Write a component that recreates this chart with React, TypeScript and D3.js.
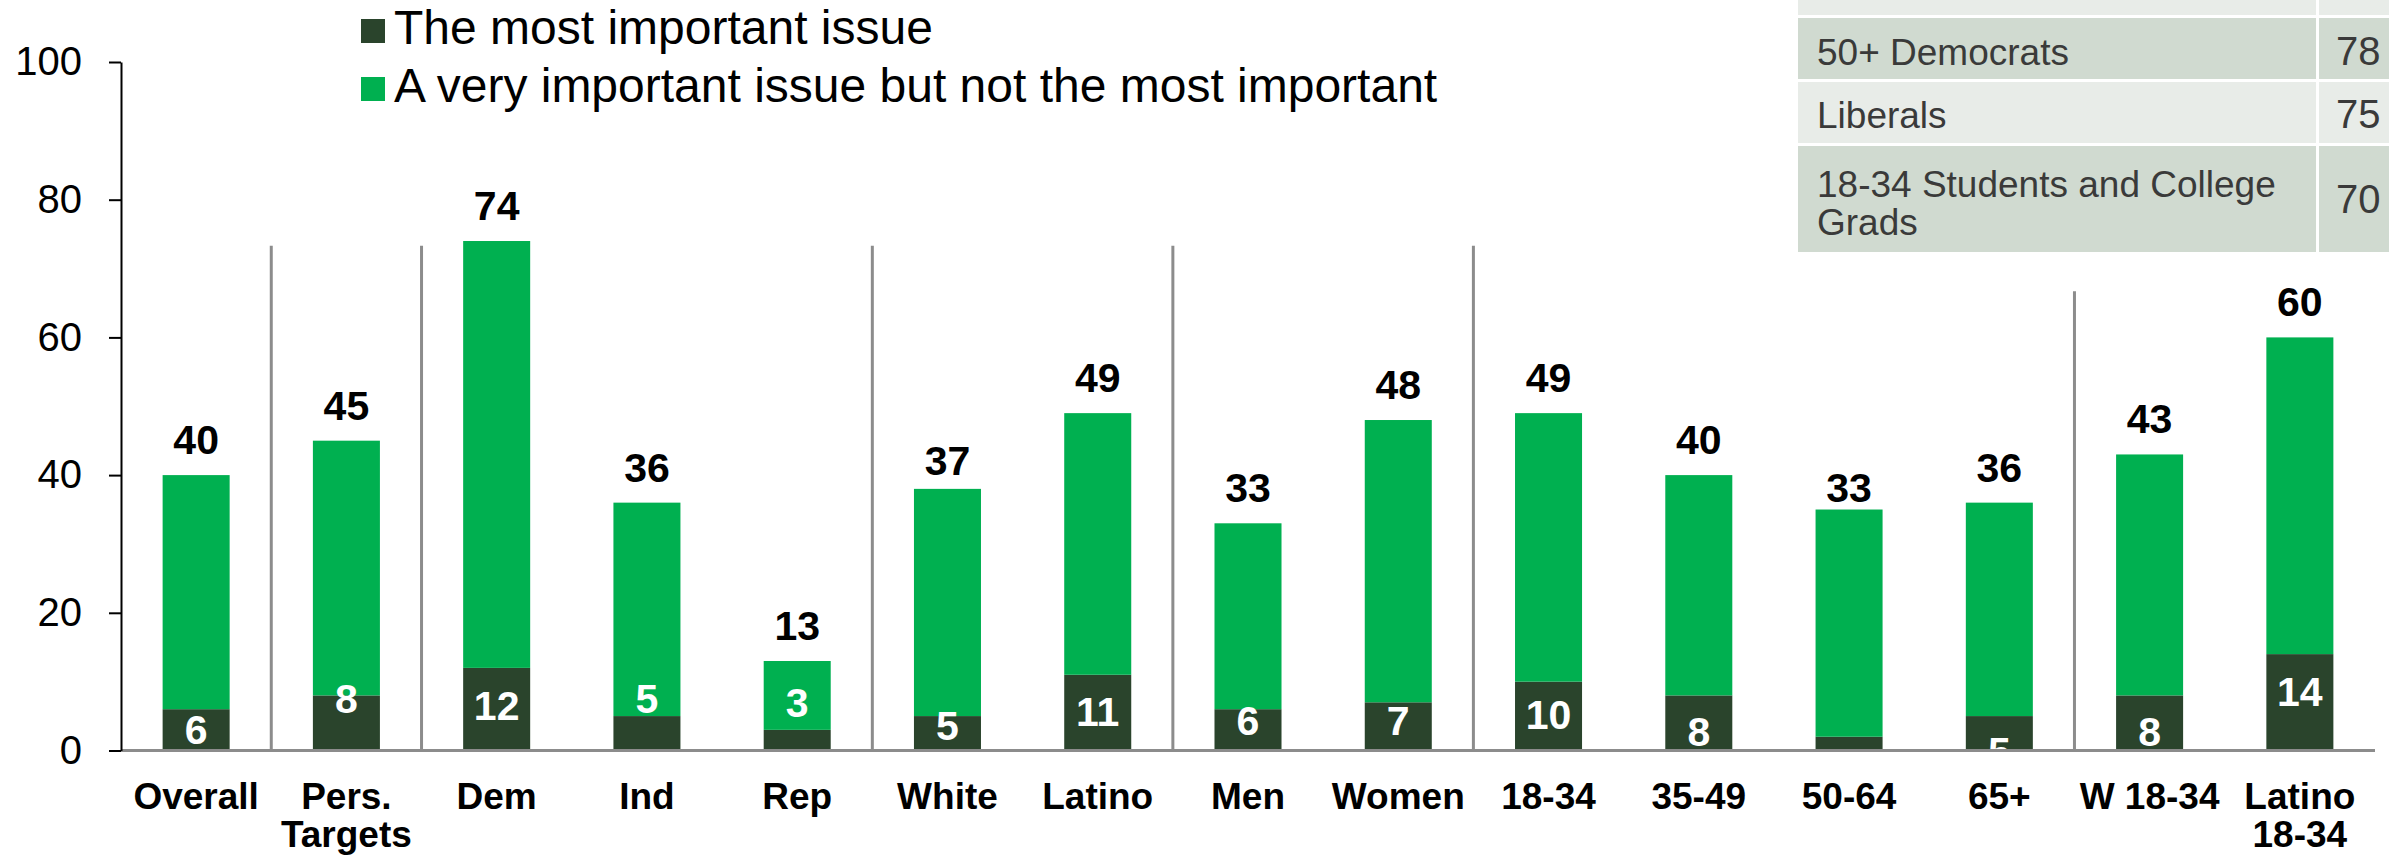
import React, { useEffect, useRef } from "react";
import * as d3 from "d3";

const categories = ["Overall", "Pers.\nTargets", "Dem", "Ind", "Rep", "White", "Latino", "Men", "Women", "18-34", "35-49", "50-64", "65+", "W 18-34", "Latino\n18-34"];
const mostImportant = [6, 8, 12, 5, 3, 5, 11, 6, 7, 10, 8, 2, 5, 8, 14];
const veryImportant = [34, 37, 62, 31, 10, 33, 38, 27, 41, 39, 32, 33, 31, 35, 46];
const totalLabels = [40, 45, 74, 36, 13, 37, 49, 33, 48, 49, 40, 33, 36, 43, 60];
const innerLabels = ["6", "8", "12", "5", "3", "5", "11", "6", "7", "10", "8", "", "5", "8", "14"];
const innerLabelLevel = [3.1, 7.6, 6.6, 7.6, 7.0, 3.7, 5.7, 4.3, 4.4, 5.2, 2.7, 0, -0.2, 2.7, 8.5];
const yTicks = [0, 20, 40, 60, 80, 100];
const seriesNames = ["The most important issue", "A very important issue but not the most important"];
const separatorBefore = [1, 2, 5, 7, 9, 13];
const separatorTop = [73.3, 73.3, 73.3, 73.3, 73.3, 66.7];
const tableLabels = ["", "50+ Democrats", "Liberals", "18-34 Students and College\nGrads"];
const tableValues = ["", "78", "75", "70"];

const FONT = "'Liberation Sans', Arial, Helvetica, sans-serif";
const DARK = "#2a442c";
const GREEN = "#00b050";

export default function App() {
  const W = 2389;
  const H = 858;
  const axisRef = useRef<SVGGElement>(null);

  const x = d3.scaleBand<string>().domain(categories).range([121, 2375]).paddingInner(0.554).paddingOuter(0.277);
  const y = d3.scaleLinear().domain([0, 100]).range([750.5, 62]);
  const rows = categories.map((c, i) => ({ cat: c, most: mostImportant[i], very: veryImportant[i] }));
  const stacked = d3.stack<any>().keys(["most", "very"])(rows);
  const colors = [DARK, GREEN];
  const gap = x.step() - x.bandwidth();

  useEffect(() => {
    if (!axisRef.current) return;
    const g = d3.select(axisRef.current);
    g.call(d3.axisLeft(y).tickValues(yTicks).tickSize(12).tickSizeOuter(0).tickPadding(27) as any);
    g.select(".domain").attr("stroke", "#000").attr("stroke-width", 2);
    g.selectAll(".tick line").attr("stroke", "#000").attr("stroke-width", 2);
    g.selectAll(".tick text").attr("font-size", 40).attr("fill", "#000").attr("font-family", FONT);
  }, []);

  const tableRowsLayout = [
    { y: -45, h: 60, fill: "#e8ece8" },
    { y: 18, h: 61, fill: "#d0dad0" },
    { y: 82, h: 61, fill: "#e8ece8" },
    { y: 146, h: 106, fill: "#d0dad0" },
  ];
  const tableTextBase = [[0], [65], [128], [197, 235]];
  const tableValueBase = [0, 65, 128, 213];

  return (
    <svg width={W} height={H} style={{ position: "absolute", left: 0, top: 0, background: "#fff" }} fontFamily={FONT}>
      <defs>
        <clipPath id="plotClip">
          <rect x={0} y={0} width={W} height={750.5} />
        </clipPath>
      </defs>

      {/* table in the top right */}
      <g>
        {tableRowsLayout.map((r, i) => (
          <g key={i}>
            <rect x={1798} y={r.y} width={518} height={r.h} fill={r.fill} />
            <rect x={2319} y={r.y} width={100} height={r.h} fill={r.fill} />
            {tableLabels[i].split("\n").map((t, j) => (
              <text key={j} x={1817} y={tableTextBase[i][j]} fontSize={37} fill="#3a3a3a">{t}</text>
            ))}
            {tableValues[i] && (
              <text x={2336} y={tableValueBase[i]} fontSize={40} fill="#3a3a3a">{tableValues[i]}</text>
            )}
          </g>
        ))}
      </g>

      {/* legend */}
      {seriesNames.map((s, i) => (
        <g key={s}>
          <rect x={361} y={19 + i * 58} width={24} height={24} fill={colors[i]} />
          <text x={394} y={44 + i * 58} fontSize={48} fill="#000">{s}</text>
        </g>
      ))}

      {/* bars */}
      {stacked.map((layer, li) => (
        <g key={li} fill={colors[li]}>
          {layer.map((d: any, i: number) => (
            <rect key={i} x={x(categories[i])} y={y(d[1])} width={x.bandwidth()} height={y(d[0]) - y(d[1])} />
          ))}
        </g>
      ))}

      {/* separators */}
      {separatorBefore.map((idx, k) => {
        const sx = (x(categories[idx]) as number) - gap / 2;
        return <line key={k} x1={sx} x2={sx} y1={y(separatorTop[k])} y2={y(0)} stroke="#8c8c8c" strokeWidth={3} />;
      })}

      {/* inner labels */}
      <g clipPath="url(#plotClip)">
        {innerLabels.map((t, i) => (
          <text key={i} x={(x(categories[i]) as number) + x.bandwidth() / 2} y={y(innerLabelLevel[i]) + 14.5} textAnchor="middle" fontSize={41} fontWeight="bold" fill="#fff">{t}</text>
        ))}
      </g>

      {/* x axis line */}
      <line x1={121} x2={2375} y1={y(0)} y2={y(0)} stroke="#8c8c8c" strokeWidth={3} />

      {/* y axis */}
      <g ref={axisRef} transform="translate(121,0)" />

      {/* total labels */}
      {totalLabels.map((v, i) => (
        <text key={i} x={(x(categories[i]) as number) + x.bandwidth() / 2} y={y(v) - 21} textAnchor="middle" fontSize={41} fontWeight="bold" fill="#000">{v}</text>
      ))}

      {/* category labels */}
      {categories.map((c, i) => (
        <text key={i} x={(x(c) as number) + x.bandwidth() / 2} y={809} textAnchor="middle" fontSize={37} fontWeight="bold" fill="#000">
          {c.split("\n").map((t, j) => (
            <tspan key={j} x={(x(c) as number) + x.bandwidth() / 2} dy={j === 0 ? 0 : 38}>{t}</tspan>
          ))}
        </text>
      ))}
    </svg>
  );
}
